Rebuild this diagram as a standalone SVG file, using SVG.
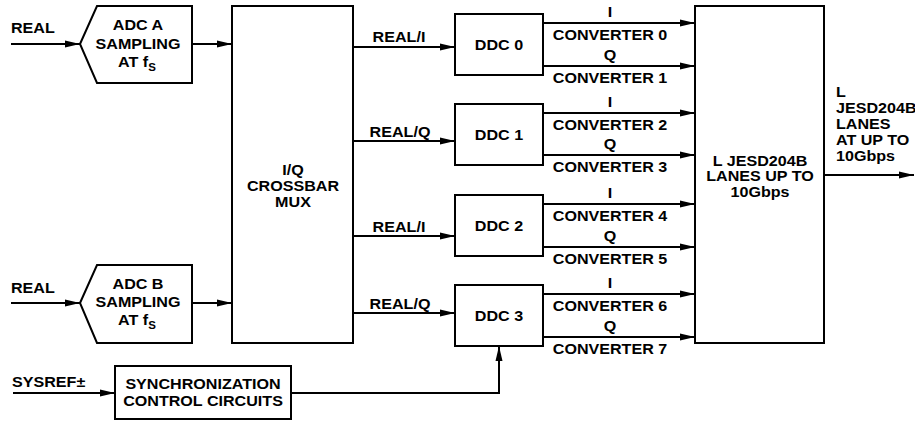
<svg xmlns="http://www.w3.org/2000/svg" width="915" height="423" viewBox="0 0 915 423">
<style>
.b{fill:#fff;stroke:#000;stroke-width:2}
.l{fill:none;stroke:#000;stroke-width:2}
text{font-family:"Liberation Sans",Arial,sans-serif;font-weight:bold;font-size:14px;fill:#000}
.m{text-anchor:middle}
</style>
<defs>
<marker id="ah" markerUnits="userSpaceOnUse" markerWidth="15" markerHeight="8" refX="15" refY="4" orient="auto">
<path d="M0,0.5 L15,4 L0,7.5 z" fill="#000"/>
</marker>
</defs>
<g id="connectors">
<path class="l" d="M11,44 H80" marker-end="url(#ah)"/>
<path class="l" d="M11,303 H80" marker-end="url(#ah)"/>
<path class="l" d="M192,44 H232" marker-end="url(#ah)"/>
<path class="l" d="M192,303 H232" marker-end="url(#ah)"/>
<path class="l" d="M353,47 H455" marker-end="url(#ah)"/>
<path class="l" d="M353,141 H455" marker-end="url(#ah)"/>
<path class="l" d="M353,236 H455" marker-end="url(#ah)"/>
<path class="l" d="M353,313 H455" marker-end="url(#ah)"/>
<path class="l" d="M543,23 H695" marker-end="url(#ah)"/>
<path class="l" d="M543,66 H695" marker-end="url(#ah)"/>
<path class="l" d="M543,113 H695" marker-end="url(#ah)"/>
<path class="l" d="M543,155 H695" marker-end="url(#ah)"/>
<path class="l" d="M543,204 H695" marker-end="url(#ah)"/>
<path class="l" d="M543,247 H695" marker-end="url(#ah)"/>
<path class="l" d="M543,294 H695" marker-end="url(#ah)"/>
<path class="l" d="M543,337 H695" marker-end="url(#ah)"/>
<path class="l" d="M824,175 H914" marker-end="url(#ah)"/>
<path class="l" d="M13,393 H115" marker-end="url(#ah)"/>
<path class="l" d="M291,393 H499 V346" marker-end="url(#ah)"/>
<text transform="translate(11 33) scale(1.15 1)">REAL</text>
<text transform="translate(11 293) scale(1.15 1)">REAL</text>
<text transform="translate(12 387) scale(1.15 1)">SYSREF±</text>
<text class="m" transform="translate(399 42) scale(1.15 1)">REAL/I</text>
<text class="m" transform="translate(400 137) scale(1.15 1)">REAL/Q</text>
<text class="m" transform="translate(399 232) scale(1.15 1)">REAL/I</text>
<text class="m" transform="translate(400 309) scale(1.15 1)">REAL/Q</text>
<text class="m" transform="translate(610 17) scale(1.15 1)">I</text>
<text class="m" transform="translate(610 40) scale(1.15 1)">CONVERTER 0</text>
<text class="m" transform="translate(610 60) scale(1.15 1)">Q</text>
<text class="m" transform="translate(610 83) scale(1.15 1)">CONVERTER 1</text>
<text class="m" transform="translate(610 107) scale(1.15 1)">I</text>
<text class="m" transform="translate(610 130) scale(1.15 1)">CONVERTER 2</text>
<text class="m" transform="translate(610 149) scale(1.15 1)">Q</text>
<text class="m" transform="translate(610 172) scale(1.15 1)">CONVERTER 3</text>
<text class="m" transform="translate(610 198) scale(1.15 1)">I</text>
<text class="m" transform="translate(610 221) scale(1.15 1)">CONVERTER 4</text>
<text class="m" transform="translate(610 241) scale(1.15 1)">Q</text>
<text class="m" transform="translate(610 264) scale(1.15 1)">CONVERTER 5</text>
<text class="m" transform="translate(610 288) scale(1.15 1)">I</text>
<text class="m" transform="translate(610 311) scale(1.15 1)">CONVERTER 6</text>
<text class="m" transform="translate(610 331) scale(1.15 1)">Q</text>
<text class="m" transform="translate(610 354) scale(1.15 1)">CONVERTER 7</text>
<text transform="translate(836 97) scale(1.15 1)">L</text>
<text transform="translate(836 113) scale(1.15 1)">JESD204B</text>
<text transform="translate(836 129) scale(1.15 1)">LANES</text>
<text transform="translate(836 145) scale(1.15 1)">AT UP TO</text>
<text transform="translate(836 161) scale(1.15 1)">10Gbps</text>
</g>
<g id="adcA">
<polygon class="b" points="80,44 97,6 192,6 192,83 97,83"/>
<text class="m" transform="translate(138 30) scale(1.15 1)">ADC A</text>
<text class="m" transform="translate(138 49) scale(1.15 1)">SAMPLING</text>
<text class="m" transform="translate(137 67) scale(1.15 1)">AT f<tspan font-size="10" dy="4">S</tspan></text>
</g>
<g id="adcB">
<polygon class="b" points="80,303 97,265 192,265 192,343 97,343"/>
<text class="m" transform="translate(138 289) scale(1.15 1)">ADC B</text>
<text class="m" transform="translate(138 307) scale(1.15 1)">SAMPLING</text>
<text class="m" transform="translate(137 325) scale(1.15 1)">AT f<tspan font-size="10" dy="4">S</tspan></text>
</g>
<g id="mux">
<rect class="b" x="232" y="6" width="121" height="337"/>
<text class="m" transform="translate(293 175) scale(1.15 1)">I/Q</text>
<text class="m" transform="translate(293 191) scale(1.15 1)">CROSSBAR</text>
<text class="m" transform="translate(293 207) scale(1.15 1)">MUX</text>
</g>
<g id="ddc0">
<rect class="b" x="455" y="14" width="88" height="61"/>
<text class="m" transform="translate(499 50) scale(1.15 1)">DDC 0</text>
</g>
<g id="ddc1">
<rect class="b" x="455" y="104" width="88" height="61"/>
<text class="m" transform="translate(499 140) scale(1.15 1)">DDC 1</text>
</g>
<g id="ddc2">
<rect class="b" x="455" y="195" width="88" height="61"/>
<text class="m" transform="translate(499 231) scale(1.15 1)">DDC 2</text>
</g>
<g id="ddc3">
<rect class="b" x="455" y="285" width="88" height="61"/>
<text class="m" transform="translate(499 321) scale(1.15 1)">DDC 3</text>
</g>
<g id="jesd">
<rect class="b" x="695" y="6" width="129" height="337"/>
<text class="m" transform="translate(760 166) scale(1.15 1)">L JESD204B</text>
<text class="m" transform="translate(760 181) scale(1.15 1)">LANES UP TO</text>
<text class="m" transform="translate(760 197) scale(1.15 1)">10Gbps</text>
</g>
<g id="sync">
<rect class="b" x="115" y="366" width="176" height="53"/>
<text class="m" transform="translate(203 389) scale(1.15 1)">SYNCHRONIZATION</text>
<text class="m" transform="translate(203 406) scale(1.15 1)">CONTROL CIRCUITS</text>
</g>
</svg>
